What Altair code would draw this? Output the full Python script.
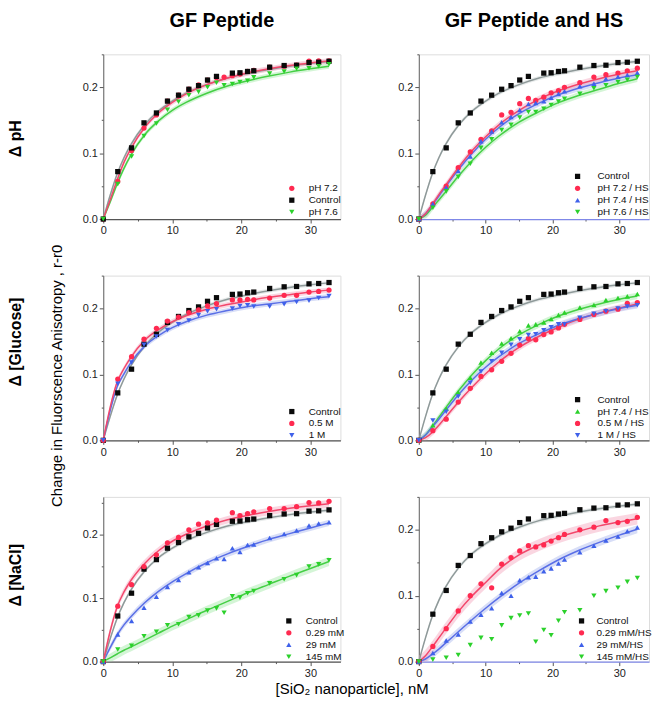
import altair as alt
import pandas as pd

# ---------------- data ----------------
X_CTRL = [0, 2.1, 4.1, 5.9, 7.7, 9.3, 10.9, 12.4, 13.8, 15.1, 16.4, 18.7, 19.8, 20.9, 21.8, 24.1, 26.2, 28.0, 29.8, 31.2, 32.7]
X_FULL = [0, 2.1, 4.1, 5.9, 7.7, 9.3, 10.9, 12.4, 13.8, 15.1, 16.4, 17.5, 18.7, 19.8, 20.9, 21.8, 24.1, 26.2, 28.0, 29.8, 31.2, 32.7]
FIT_X = [0, 1, 2, 3, 4, 6, 8, 10, 12, 15, 18, 21, 24, 27, 30, 32.7]

CONTROL = [0, 0.072, 0.108, 0.146, 0.161, 0.179, 0.188, 0.197, 0.2025, 0.211, 0.2165, 0.2215, 0.222, 0.224, 0.225, 0.2305, 0.233, 0.2335, 0.2375, 0.238, 0.2395]
FIT_CONTROL = [0, 0.036, 0.068, 0.093, 0.113, 0.143, 0.164, 0.179, 0.191, 0.204, 0.214, 0.221, 0.227, 0.232, 0.236, 0.239]

# Delta pH, GF peptide
PH72 = [0, 0.057, 0.104, 0.138, 0.158, 0.179, 0.188, 0.197, 0.2035, 0.211, 0.215, 0.2155, 0.2175, 0.22, 0.224, 0.2255, 0.2305, 0.232, 0.2335, 0.2395, 0.24, 0.24]
PH76 = [0, 0.053, 0.095, 0.126, 0.145, 0.166, 0.178, 0.188, 0.193, 0.2, 0.207, 0.203, 0.205, 0.208, 0.21, 0.215, 0.221, 0.224, 0.228, 0.229, 0.232, 0.235]
FIT_PH72 = [0, 0.029, 0.059, 0.086, 0.107, 0.139, 0.161, 0.177, 0.19, 0.204, 0.214, 0.222, 0.228, 0.233, 0.237, 0.24]
FIT_PH76 = [0, 0.026, 0.053, 0.077, 0.097, 0.128, 0.149, 0.165, 0.177, 0.191, 0.202, 0.21, 0.217, 0.223, 0.228, 0.232]

# Delta pH, GF peptide and HS
PH72_HS = [0, 0.023, 0.05, 0.078, 0.102, 0.121, 0.134, 0.158, 0.162, 0.175, 0.183, 0.18, 0.185, 0.1915, 0.195, 0.2, 0.207, 0.2155, 0.219, 0.2215, 0.225, 0.229]
PH74_HS = [0, 0.023, 0.048, 0.073, 0.095, 0.118, 0.133, 0.147, 0.155, 0.1655, 0.1745, 0.176, 0.179, 0.184, 0.19, 0.194, 0.2015, 0.2055, 0.213, 0.216, 0.2185, 0.222]
PH76_HS = [0, 0.017, 0.042, 0.064, 0.084, 0.108, 0.121, 0.135, 0.143, 0.154, 0.1625, 0.1625, 0.1675, 0.173, 0.1785, 0.1825, 0.19, 0.1985, 0.203, 0.208, 0.2115, 0.2155]
FIT_PH72_HS = [0, 0.008, 0.022, 0.037, 0.051, 0.079, 0.104, 0.125, 0.143, 0.165, 0.182, 0.195, 0.205, 0.213, 0.22, 0.225]
FIT_PH74_HS = [0, 0.008, 0.021, 0.035, 0.049, 0.076, 0.1, 0.121, 0.139, 0.16, 0.176, 0.189, 0.199, 0.207, 0.214, 0.219]
FIT_PH76_HS = [0, 0.006, 0.017, 0.029, 0.041, 0.066, 0.089, 0.109, 0.126, 0.147, 0.163, 0.177, 0.188, 0.197, 0.206, 0.213]

# Delta glucose, GF peptide
GLU05 = [0, 0.093, 0.127, 0.1535, 0.17, 0.181, 0.187, 0.194, 0.198, 0.204, 0.2075, 0.213, 0.213, 0.214, 0.213, 0.216, 0.22, 0.22, 0.225, 0.226, 0.228]
GLU1 = [0, 0.086, 0.118, 0.145, 0.1575, 0.1675, 0.176, 0.182, 0.19, 0.196, 0.199, 0.2, 0.204, 0.205, 0.203, 0.203, 0.2065, 0.21, 0.212, 0.216, 0.219]
FIT_GLU05 = [0, 0.05, 0.088, 0.109, 0.126, 0.152, 0.168, 0.18, 0.189, 0.199, 0.206, 0.212, 0.217, 0.221, 0.225, 0.228]
FIT_GLU1 = [0, 0.045, 0.081, 0.101, 0.118, 0.143, 0.159, 0.171, 0.18, 0.19, 0.197, 0.203, 0.207, 0.211, 0.215, 0.218]

# Delta glucose, GF peptide and HS
GLU05_HS = [0, 0.0146, 0.032, 0.058, 0.079, 0.097, 0.107, 0.12, 0.132, 0.1445, 0.1545, 0.1525, 0.1605, 0.1645, 0.1705, 0.176, 0.1835, 0.191, 0.196, 0.199, 0.208, 0.209]
GLU1_HS = [0, 0.03, 0.0435, 0.0665, 0.0875, 0.1045, 0.12, 0.133, 0.145, 0.1535, 0.16, 0.161, 0.167, 0.1715, 0.176, 0.176, 0.186, 0.192, 0.196, 0.2, 0.203, 0.205]
FIT_GLU05_HS = [0, 0.004, 0.012, 0.023, 0.035, 0.059, 0.081, 0.101, 0.119, 0.141, 0.158, 0.172, 0.184, 0.193, 0.201, 0.207]
FIT_GLU1_HS = [0, 0.008, 0.02, 0.032, 0.045, 0.07, 0.092, 0.111, 0.127, 0.147, 0.162, 0.175, 0.185, 0.193, 0.2, 0.205]

# Delta NaCl, GF peptide
NA029 = [0, 0.0875, 0.1215, 0.15, 0.1685, 0.1875, 0.196, 0.208, 0.217, 0.219, 0.2235, 0.235, 0.2305, 0.2335, 0.2365, 0.2415, 0.2415, 0.2445, 0.251, 0.2505, 0.253]
NA29 = [0, 0.043, 0.064, 0.085, 0.1025, 0.118, 0.129, 0.141, 0.149, 0.1555, 0.163, 0.162, 0.179, 0.173, 0.184, 0.185, 0.195, 0.2015, 0.207, 0.215, 0.218, 0.22]
NA145 = [0, 0.019, 0.025, 0.04, 0.047, 0.0575, 0.059, 0.0705, 0.073, 0.0805, 0.084, 0.077, 0.103, 0.101, 0.108, 0.1115, 0.1235, 0.13, 0.1365, 0.15, 0.1535, 0.16]
FIT_NA029 = [0, 0.048, 0.086, 0.11, 0.128, 0.155, 0.175, 0.19, 0.201, 0.214, 0.224, 0.231, 0.237, 0.242, 0.246, 0.249]
FIT_NA29 = [0, 0.022, 0.042, 0.058, 0.071, 0.093, 0.111, 0.126, 0.139, 0.156, 0.17, 0.182, 0.193, 0.202, 0.211, 0.219]
FIT_NA145 = [0, 0.006, 0.012, 0.018, 0.023, 0.034, 0.045, 0.056, 0.066, 0.081, 0.095, 0.109, 0.122, 0.135, 0.147, 0.158]

# Delta NaCl, GF peptide and HS
NA029_HS = [0, 0.023, 0.05, 0.077, 0.1, 0.118, 0.112, 0.148, 0.158, 0.168, 0.176, 0.174, 0.177, 0.183, 0.188, 0.193, 0.2, 0.204, 0.214, 0.211, 0.213, 0.219]
NA29_HS = [0, 0.013, 0.032, 0.041, 0.061, 0.071, 0.081, 0.104, 0.1, 0.1235, 0.128, 0.129, 0.137, 0.1415, 0.149, 0.155, 0.166, 0.176, 0.184, 0.19, 0.198, 0.2037]
NA145_HS = [0, 0.003, 0.006, 0.01, 0.025, 0.036, 0.034, 0.055, 0.066, 0.07, 0.073, 0.03, 0.048, 0.04, 0.062, 0.075, 0.078, 0.1, 0.107, 0.112, 0.121, 0.127]
FIT_NA029_HS = [0, 0.009, 0.022, 0.036, 0.05, 0.077, 0.1, 0.12, 0.14, 0.162, 0.177, 0.189, 0.198, 0.206, 0.212, 0.217]
FIT_NA29_HS = [0, 0.004, 0.011, 0.019, 0.028, 0.046, 0.064, 0.081, 0.097, 0.119, 0.138, 0.155, 0.169, 0.181, 0.192, 0.201]

COL_TITLES = ["GF Peptide", "GF Peptide and HS"]
ROW_TITLES = ["\u0394 pH", "\u0394 [Glucose]", "\u0394 [NaCl]"]
Y_TITLE = "Change in Fluorscence Anisotropy ,  r-r0"
X_TITLE = "[SiO\u2082 nanoparticle],  nM"
X_TICKS = [0, 5, 10, 15, 20, 25, 30]
Y_TICKS = [0, 0.05, 0.1, 0.15, 0.2, 0.25]

# ---------------- styles ----------------
FONT = "Liberation Sans"
RED, RED_L, RED_B = "#ff2a50", "#f2476b", "#f5a3bc"
GRN, GRN_L, GRN_B = "#2bd12b", "#45cf45", "#9fe8a4"
BLU, BLU_L, BLU_B = "#3f61ea", "#5a6fe6", "#a9b6ee"
BLK, GRY_L, GRY_B = "#0a0a0a", "#8e9999", "#ccd2d2"

PW_L, PW_R, PH = 239, 232, 166
XMAX_L, XMAX_R = 34.35, 34.45


def panel(series, fits, xmax, width, ymax, lx, ly, loff, title=None, xdom="#555555"):
    order = [s[0] for s in series]
    rows = []
    for name, xs, ys, _c, _s in series:
        for a, b in zip(xs, ys):
            rows.append({"x": a, "y": b, "s": name})
    pts = pd.DataFrame(rows)
    frows, brows = [], []
    for fname, fy, _lc, _bc, hw in fits:
        for a, b in zip(FIT_X, fy):
            frows.append({"x": a, "y": b, "f": fname})
            brows.append({"x": a, "lo": max(b - hw, 0), "hi": b + hw, "f": fname})
    fdf, bdf = pd.DataFrame(frows), pd.DataFrame(brows)
    fnames = [f[0] for f in fits]

    xs = alt.Scale(domain=[0, xmax], nice=False, zero=False)
    ysc = alt.Scale(domain=[0, ymax], nice=False, zero=False)
    xa = alt.Axis(values=X_TICKS, title=None, labelFontSize=11, labelFont=FONT, labelColor="#222",
                  labelExpr="datum.value % 10 === 0 ? datum.label : ''",
                  tickSize={"condition": {"test": "datum.value % 10 === 0", "value": 4}, "value": 2},
                  tickColor="#555", domainColor=xdom, domainWidth=1.2, labelPadding=2,
                  labelFlush=False, grid=False)
    ya = alt.Axis(values=Y_TICKS, format=".1f", title=None, labelFontSize=11, labelFont=FONT,
                  labelColor="#222",
                  labelExpr="abs(datum.value * 10 - round(datum.value * 10)) < 0.01 ? datum.label : ''",
                  tickSize={"condition": {"test": "abs(datum.value * 10 - round(datum.value * 10)) < 0.01",
                                          "value": 4}, "value": 2},
                  tickColor="#555", domainColor="#666",
                  labelPadding=2, labelFlush=False, grid=False)

    band = alt.Chart(bdf).mark_area(opacity=0.45, interpolate="monotone").encode(
        x=alt.X("x:Q", scale=xs, axis=xa),
        y=alt.Y("lo:Q", scale=ysc, axis=ya),
        y2="hi:Q",
        fill=alt.Fill("f:N", scale=alt.Scale(domain=fnames, range=[f[3] for f in fits]), legend=None),
        detail="f:N",
    )
    line = alt.Chart(fdf).mark_line(interpolate="monotone", strokeWidth=1.5).encode(
        x=alt.X("x:Q", scale=xs, axis=xa),
        y=alt.Y("y:Q", scale=ysc, axis=ya),
        stroke=alt.Stroke("f:N", scale=alt.Scale(domain=fnames, range=[f[2] for f in fits]), legend=None),
    )
    leg = alt.Legend(orient="none", legendX=lx, legendY=ly, title=None, labelFontSize=10,
                     labelFont=FONT, labelColor="#111", symbolSize=28, rowPadding=2,
                     labelOffset=loff, padding=0, symbolStrokeWidth=0)
    point = alt.Chart(pts).mark_point(filled=True, size=28, opacity=1).encode(
        x=alt.X("x:Q", scale=xs, axis=xa),
        y=alt.Y("y:Q", scale=ysc, axis=ya),
        color=alt.Color("s:N", scale=alt.Scale(domain=order, range=[s[3] for s in series]), legend=leg),
        shape=alt.Shape("s:N", scale=alt.Scale(domain=order, range=[s[4] for s in series]), legend=leg),
    )
    props = dict(width=width, height=PH)
    if title is not None:
        props["title"] = alt.TitleParams(title, fontSize=20, fontWeight="bold", font=FONT,
                                         anchor="middle", offset=23, color="black")
    return alt.layer(band, line, point).properties(**props)


CTRL_FIT = ("c", FIT_CONTROL, GRY_L, GRY_B, 0.003)

tl = panel(
    [("pH 7.2", X_FULL, PH72, RED, "circle"), ("Control", X_CTRL, CONTROL, BLK, "square"),
     ("pH 7.6", X_FULL, PH76, GRN, "triangle-down")],
    [("g", FIT_PH76, GRN_L, GRN_B, 0.004), CTRL_FIT, ("r", FIT_PH72, RED_L, RED_B, 0.004)],
    XMAX_L, PW_L, 0.25, 185, 130, 12, title=COL_TITLES[0])
tr = panel(
    [("Control", X_CTRL, CONTROL, BLK, "square"), ("pH 7.2 / HS", X_FULL, PH72_HS, RED, "circle"),
     ("pH 7.4 / HS", X_FULL, PH74_HS, BLU, "triangle-up"), ("pH 7.6 / HS", X_FULL, PH76_HS, GRN, "triangle-down")],
    [CTRL_FIT, ("g", FIT_PH76_HS, GRN_L, GRN_B, 0.005), ("b", FIT_PH74_HS, BLU_L, BLU_B, 0.005),
     ("r", FIT_PH72_HS, RED_L, RED_B, 0.005)],
    XMAX_R, PW_R, 0.25, 155, 118, 15, title=COL_TITLES[1], xdom="#7f88e8")
ml = panel(
    [("Control", X_CTRL, CONTROL, BLK, "square"), ("0.5 M", X_CTRL, GLU05, RED, "circle"),
     ("1 M", X_CTRL, GLU1, BLU, "triangle-down")],
    [CTRL_FIT, ("b", FIT_GLU1, BLU_L, BLU_B, 0.004), ("r", FIT_GLU05, RED_L, RED_B, 0.004)],
    XMAX_L, PW_L, 0.25, 185, 132, 12)
mr = panel(
    [("Control", X_CTRL, CONTROL, BLK, "square"), ("pH 7.4 / HS", X_FULL, PH74_HS, GRN, "triangle-up"),
     ("0.5 M / HS", X_FULL, GLU05_HS, RED, "circle"), ("1 M / HS", X_FULL, GLU1_HS, BLU, "triangle-down")],
    [CTRL_FIT, ("g", FIT_PH74_HS, GRN_L, GRN_B, 0.005), ("r", FIT_GLU05_HS, RED_L, RED_B, 0.005),
     ("b", FIT_GLU1_HS, BLU_L, BLU_B, 0.005)],
    XMAX_R, PW_R, 0.25, 155, 120, 15)
bl = panel(
    [("Control", X_CTRL, CONTROL, BLK, "square"), ("0.29 mM", X_CTRL, NA029, RED, "circle"),
     ("29 mM", X_FULL, NA29, BLU, "triangle-up"), ("145 mM", X_FULL, NA145, GRN, "triangle-down")],
    [("g", FIT_NA145, GRN_L, GRN_B, 0.007), ("b", FIT_NA29, BLU_L, BLU_B, 0.005), CTRL_FIT,
     ("r", FIT_NA029, RED_L, RED_B, 0.006)],
    XMAX_L, PW_L, 0.26, 182, 120, 12)
br = panel(
    [("Control", X_CTRL, CONTROL, BLK, "square"), ("0.29 mM/HS", X_FULL, NA029_HS, RED, "circle"),
     ("29 mM/HS", X_FULL, NA29_HS, BLU, "triangle-up"), ("145 mM/HS", X_FULL, NA145_HS, GRN, "triangle-down")],
    [CTRL_FIT, ("b", FIT_NA29_HS, BLU_L, BLU_B, 0.006), ("r", FIT_NA029_HS, RED_L, RED_B, 0.009)],
    XMAX_R, PW_R, 0.25, 159, 120, 10, xdom="#7f88e8")

RES = dict(x="independent", y="independent", color="independent", shape="independent",
           fill="independent", stroke="independent")

left = alt.vconcat(tl, ml, bl, spacing=38).resolve_scale(**RES)
right = alt.vconcat(tr, mr, br, spacing=38).resolve_scale(**RES)
grid = alt.hconcat(left, right, spacing=52).resolve_scale(**RES)

lab_layers = []
for txt, py in zip(ROW_TITLES, [85, 290, 525]):
    lab_layers.append(
        alt.Chart(pd.DataFrame({"t": [txt]})).mark_text(
            angle=270, fontSize=16, fontWeight="bold", font=FONT, align="center", baseline="middle",
            color="black").encode(x=alt.value(8), y=alt.value(py), text="t:N"))
lab_layers.append(
    alt.Chart(pd.DataFrame({"t": [Y_TITLE]})).mark_text(
        angle=270, fontSize=15, font=FONT, align="center", baseline="middle", color="black"
    ).encode(x=alt.value(49), y=alt.value(324), text="t:N"))
labels = alt.layer(*lab_layers).properties(
    width=65, height=560, view=alt.ViewBackground(stroke=None, strokeWidth=0, fill=None))

chart = alt.hconcat(
    labels, grid, spacing=9,
    padding={"left": 0, "top": 0, "right": 0, "bottom": 0},
    title=alt.TitleParams(X_TITLE, orient="bottom", anchor="middle", fontSize=15, font=FONT,
                          fontWeight="normal", offset=3, dx=22, color="black"),
).resolve_scale(**RES).configure_view(strokeWidth=0, stroke="transparent").configure(font=FONT)

chart.save("out.html", embed_options={"renderer": "svg", "actions": False})
